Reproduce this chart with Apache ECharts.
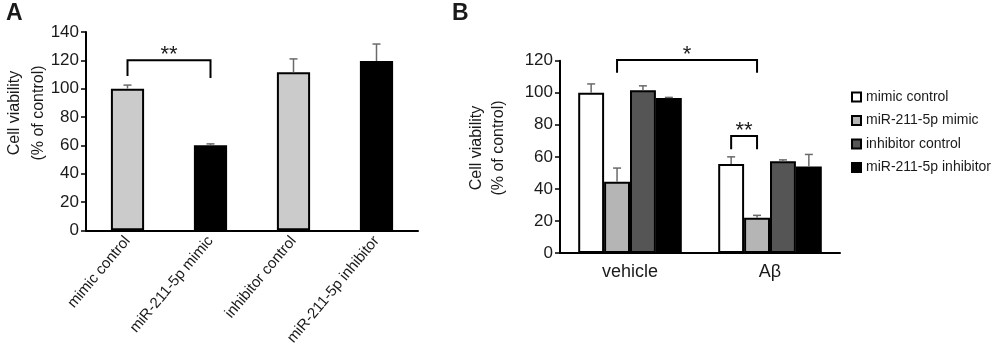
<!DOCTYPE html>
<html>
<head>
<meta charset="utf-8">
<script src="https://cdn.jsdelivr.net/npm/echarts@6/dist/echarts.min.js"></script>
<style>
html, body { margin: 0; background: #fff; }
#main { width: 1000px; height: 348px; }
</style>
</head>
<body>
<div id="main"></div>
<script>
// panel A
var catsA = ['mimic control', 'miR-211-5p mimic', 'inhibitor control', 'miR-211-5p inhibitor'];
var meanA = [100, 60, 111.5, 119.5];
var errA = [2.5, 1, 9.5, 12];
var colorA = ['#cbcbcb', '#000000', '#cbcbcb', '#000000'];
var ticksA = [0, 140, 20]; // min, max, step

// panel B
var catsB = ['vehicle', 'Aβ'];
var groupsB = ['mimic control', 'miR-211-5p mimic', 'inhibitor control', 'miR-211-5p inhibitor'];
var meanB = [[100, 55.5], [44.5, 22], [101.5, 57.3], [96.7, 54]];
var errB = [[5.5, 4.5], [8.5, 1.5], [2.8, 0.8], [0.4, 7.5]];
var colorB = ['#ffffff', '#b5b5b5', '#555555', '#000000'];
var ticksB = [0, 120, 20];

// significance brackets: [cat1, bar1, cat2, bar2, top, leftEnd, rightEnd]
var sigA = [[0, 0, 1, 0, 120, 109, 107.5]];
var sigAText = ['**'];
var sigB = [[0, 1, 1, 1, 120.5, 112.5, 112.5], [1, 0, 1, 1, 73, 64.8, 64.8]];
var sigBText = ['*', '**'];

var txt = '#1a1a1a';
var font = 'Liberation Sans, Arial, sans-serif';
var barGapB = 0.26;

var chart = echarts.init(document.getElementById('main'));

function barX(api, cat, k, nBars, gap) {
    var c = api.coord([cat, 0])[0];
    if (nBars === 1) return c;
    var bw = api.size([1, 0])[0] * (1 - gap) / nBars;
    return c + (k - (nBars - 1) / 2) * bw;
}

function errRender(nBars, gap) {
    return function (params, api) {
        var x = barX(api, api.value(0), api.value(1), nBars, gap);
        var y0 = api.coord([api.value(0), api.value(2)])[1];
        var y1 = api.coord([api.value(0), api.value(2) + api.value(3)])[1];
        var st = { stroke: '#6a6a6a', lineWidth: 1.5 };
        return {
            type: 'group',
            children: [
                { type: 'line', shape: { x1: x, y1: y0, x2: x, y2: y1 }, style: st },
                { type: 'line', shape: { x1: x - 4, y1: y1, x2: x + 4, y2: y1 }, style: st }
            ]
        };
    };
}

function sigRender(nBars, gap, labels) {
    return function (params, api) {
        var xa = barX(api, api.value(0), api.value(1), nBars, gap);
        var xb = barX(api, api.value(2), api.value(3), nBars, gap);
        var yt = api.coord([0, api.value(4)])[1];
        var yl = api.coord([0, api.value(5)])[1];
        var yr = api.coord([0, api.value(6)])[1];
        return {
            type: 'group',
            children: [
                {
                    type: 'polyline',
                    shape: { points: [[xa, yl], [xa, yt], [xb, yt], [xb, yr]] },
                    style: { stroke: '#000', lineWidth: 2, fill: null }
                },
                {
                    type: 'text',
                    x: (xa + xb) / 2, y: yt + 6,
                    style: {
                        text: labels[params.dataIndex], fill: txt,
                        font: '22px ' + font, align: 'center', verticalAlign: 'bottom'
                    }
                }
            ]
        };
    };
}

var errDataA = meanA.map(function (v, i) { return [i, 0, v, errA[i]]; });
var errDataB = [];
meanB.forEach(function (row, k) {
    row.forEach(function (v, c) { errDataB.push([c, k, v, errB[k][c]]); });
});

function yAxisCfg(idx, t) {
    return {
        type: 'value', gridIndex: idx, min: t[0], max: t[1], interval: t[2],
        splitLine: { show: false },
        axisLine: { show: true, lineStyle: { color: '#000', width: 2 } },
        axisTick: { show: true, length: 5, lineStyle: { color: '#000', width: 1.5 } },
        axisLabel: { color: txt, fontSize: 17, fontFamily: font, margin: 7 }
    };
}

var series = [
    {
        type: 'bar', xAxisIndex: 0, yAxisIndex: 0, barWidth: '40%',
        data: meanA.map(function (v, i) {
            return { value: v, itemStyle: { color: colorA[i] } };
        }),
        itemStyle: { borderColor: '#000', borderWidth: 2 },
        silent: true
    },
    {
        type: 'custom', xAxisIndex: 0, yAxisIndex: 0, z: 3,
        renderItem: errRender(1, 0), data: errDataA, silent: true
    },
    {
        type: 'custom', xAxisIndex: 0, yAxisIndex: 0, z: 3,
        renderItem: sigRender(1, 0, sigAText), data: sigA, silent: true
    }
];

groupsB.forEach(function (name, k) {
    series.push({
        name: name, type: 'bar', xAxisIndex: 1, yAxisIndex: 1,
        barGap: 0, barCategoryGap: (barGapB * 100) + '%',
        data: meanB[k],
        itemStyle: { color: colorB[k], borderColor: '#000', borderWidth: 2 },
        silent: true
    });
});
series.push({
    type: 'custom', xAxisIndex: 1, yAxisIndex: 1, z: 3,
    renderItem: errRender(4, barGapB), data: errDataB, silent: true
});
series.push({
    type: 'custom', xAxisIndex: 1, yAxisIndex: 1, z: 3,
    renderItem: sigRender(4, barGapB, sigBText), data: sigB, silent: true
});

chart.setOption({
    animation: false,
    backgroundColor: '#fff',
    textStyle: { fontFamily: font },
    grid: [
        { left: 86, top: 32, width: 332, bottom: 113.5 },
        { left: 560, top: 60.7, width: 280, bottom: 95 }
    ],
    xAxis: [
        {
            type: 'category', gridIndex: 0, data: catsA,
            axisLine: { lineStyle: { color: '#000', width: 2 } },
            axisTick: { length: 5, lineStyle: { color: '#000', width: 1.5 } },
            axisLabel: { color: txt, fontSize: 15, fontFamily: font, rotate: 50, margin: 8, interval: 0 }
        },
        {
            type: 'category', gridIndex: 1, data: catsB,
            axisLine: { lineStyle: { color: '#000', width: 2 } },
            axisTick: { length: 5, lineStyle: { color: '#000', width: 1.5 } },
            axisLabel: { color: txt, fontSize: 18, fontFamily: font, margin: 10 }
        }
    ],
    yAxis: [yAxisCfg(0, ticksA), yAxisCfg(1, ticksB)],
    legend: {
        data: groupsB, orient: 'vertical', left: 846, top: 85,
        icon: 'rect', itemWidth: 9, itemHeight: 9, itemGap: 9.5,
        textStyle: { color: txt, fontSize: 14, fontFamily: font },
        selectedMode: false
    },
    graphic: [
        { type: 'text', left: 6, top: 2, style: { text: 'A', font: 'bold 23px ' + font, fill: txt } },
        { type: 'text', left: 452, top: 2, style: { text: 'B', font: 'bold 23px ' + font, fill: txt } },
        {
            type: 'text', x: 27, y: 113, rotation: Math.PI / 2,
            style: {
                text: 'Cell viability\n(% of control)', font: '16px ' + font, fill: txt,
                align: 'center', verticalAlign: 'middle', lineHeight: 24
            }
        },
        {
            type: 'text', x: 488, y: 148, rotation: Math.PI / 2,
            style: {
                text: 'Cell viability\n(% of control)', font: '16px ' + font, fill: txt,
                align: 'center', verticalAlign: 'middle', lineHeight: 22
            }
        }
    ],
    series: series
});
</script>
</body>
</html>
